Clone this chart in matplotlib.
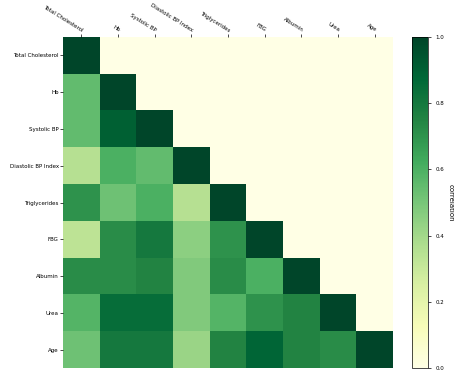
import numpy as np
import matplotlib
matplotlib.use("Agg")
import matplotlib.pyplot as plt

labels = ["Total Cholesterol", "Hb", "Systolic BP", "Diastolic BP Index",
          "Triglycerides", "FBG", "Albumin", "Urea", "Age"]

# lower-triangle correlation values, row by row (diagonal excluded)
lower_rows = [
    [],
    [0.55],
    [0.55, 0.90],
    [0.35, 0.60, 0.55],
    [0.70, 0.52, 0.60, 0.35],
    [0.33, 0.72, 0.80, 0.45, 0.70],
    [0.72, 0.72, 0.75, 0.48, 0.72, 0.60],
    [0.58, 0.85, 0.85, 0.48, 0.58, 0.70, 0.75],
    [0.52, 0.80, 0.80, 0.42, 0.75, 0.88, 0.75, 0.72],
]

n = len(labels)
mat = np.zeros((n, n))
for i, row in enumerate(lower_rows):
    for j, v in enumerate(row):
        mat[i, j] = v
    mat[i, i] = 1.0

W, H = 454, 372
fig = plt.figure(figsize=(W / 100, H / 100), dpi=100)
ax = fig.add_axes([63 / W, 4 / H, 330 / W, 331 / H])
im = ax.imshow(mat, cmap="YlGn", vmin=0, vmax=1, aspect="auto", interpolation="nearest")
ax.set_xticks(range(n))
ax.set_yticks(range(n))
ax.xaxis.tick_top()
ax.set_xticklabels(labels, rotation=-32, ha="right", rotation_mode="anchor", fontsize=4)
ax.set_yticklabels(labels, fontsize=4)
ax.tick_params(length=2, width=0.5, pad=1)
for s in ax.spines.values():
    s.set_visible(False)

cax = fig.add_axes([412 / W, 4 / H, 16 / W, 331 / H])
cb = fig.colorbar(im, cax=cax)
cb.set_ticks([0.0, 0.2, 0.4, 0.6, 0.8, 1.0])
cb.ax.tick_params(labelsize=4, length=2, width=0.5)
cb.set_label("correlation", fontsize=5, rotation=270, labelpad=7)
cb.outline.set_linewidth(0.5)

fig.savefig("out.png", dpi=100)
